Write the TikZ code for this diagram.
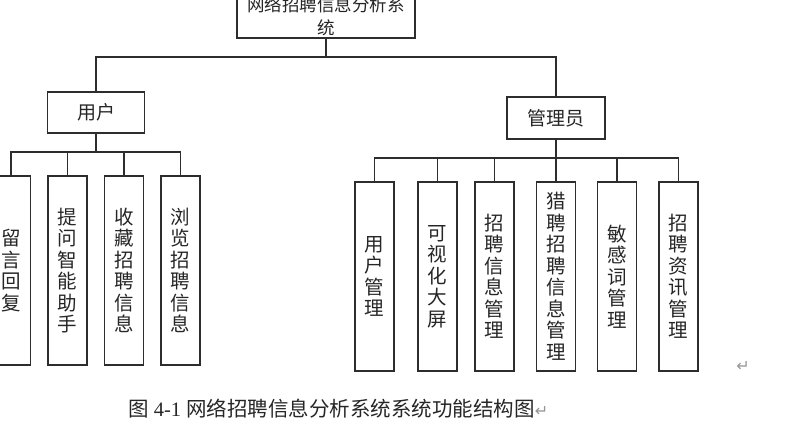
\documentclass[tikz,border=0pt]{standalone}
\usepackage{fontspec}
\setmainfont{Liberation Serif}
\newfontfamily\cjk{Noto Sans CJK SC}
\newfontfamily\symfnt{DejaVu Sans}
\usetikzlibrary{positioning}
\definecolor{linegray}{RGB}{45,45,45}
\definecolor{markgray}{RGB}{150,150,150}
\tikzset{
  box/.style={draw=linegray, line width=1.2pt, fill=white, inner sep=0pt,
              text=black!85, align=center},
  rootbox/.style={box, minimum width=178pt, minimum height=43pt,
                  font=\cjk\fontsize{17.5}{23}\selectfont},
  rolebox/.style={box, minimum width=97pt, minimum height=41pt,
                  font=\cjk\fontsize{19}{21}\selectfont},
  leafbox/.style={box, minimum width=39pt, minimum height=189pt,
                  font=\cjk\fontsize{19.5}{21.5}\selectfont},
  link/.style={draw=linegray, line width=1.1pt},
  retmark/.style={text=markgray, inner sep=0pt, font=\symfnt\fontsize{16}{16}\selectfont},
}

\begin{document}
\begin{tikzpicture}[x=1pt, y=-1pt]
  \useasboundingbox (0,0) rectangle (795,427);

  % top level
  \node[rootbox] (root) at (326,16.5) {网络招聘信息分析系\\统};
  \coordinate (topbus) at (0,57);
  \coordinate (userbus) at (0,152);
  \coordinate (adminbus) at (0,158);

  % roles
  \node[rolebox] (user) at (96,112.5) {用户};
  \node[rolebox, minimum width=98pt, minimum height=42pt] (admin) at (556,118) {管理员};
  \draw[link] (root.south) -- (root.south |- topbus) -| (user.north);
  \draw[link] (root.south) -- (root.south |- topbus) -| (admin.north);

  % user functions
  \foreach \name/\x/\txt in {reply/11/留\\言\\回\\复,
                             ask/67.5/提\\问\\智\\能\\助\\手,
                             fav/124/收\\藏\\招\\聘\\信\\息,
                             browse/180.5/浏\\览\\招\\聘\\信\\息} {
    \node[leafbox] (\name) at (\x,270.5) {\txt};
    \draw[link] (user.south) -- (user.south |- userbus) -| (\name.north);
  }

  % admin functions
  \foreach \name/\x/\txt in {usermgr/374.5/用\\户\\管\\理,
                             screen/437.5/可\\视\\化\\大\\屏,
                             jobmgr/494.5/招\\聘\\信\\息\\管\\理,
                             huntmgr/556/猎\\聘\\招\\聘\\信\\息\\管\\理,
                             wordmgr/617/敏\\感\\词\\管\\理,
                             newsmgr/678.5/招\\聘\\资\\讯\\管\\理} {
    \node[leafbox] (\name) at (\x,276.5) {\txt};
    \draw[link] (admin.south) -- (admin.south |- adminbus) -| (\name.north);
  }

  % caption
  \node[anchor=west, inner sep=0pt, text=black!85,
        font=\fontsize{20.5}{22}\selectfont] (caption) at (128,409)
    {{\cjk 图} 4-1 {\cjk 网络招聘信息分析系统系统功能结构图}{\symfnt\color{markgray}\fontsize{16}{16}\selectfont ↵}};
  \node[retmark] (endmark) at (743,366) {↵};
\end{tikzpicture}
\end{document}
